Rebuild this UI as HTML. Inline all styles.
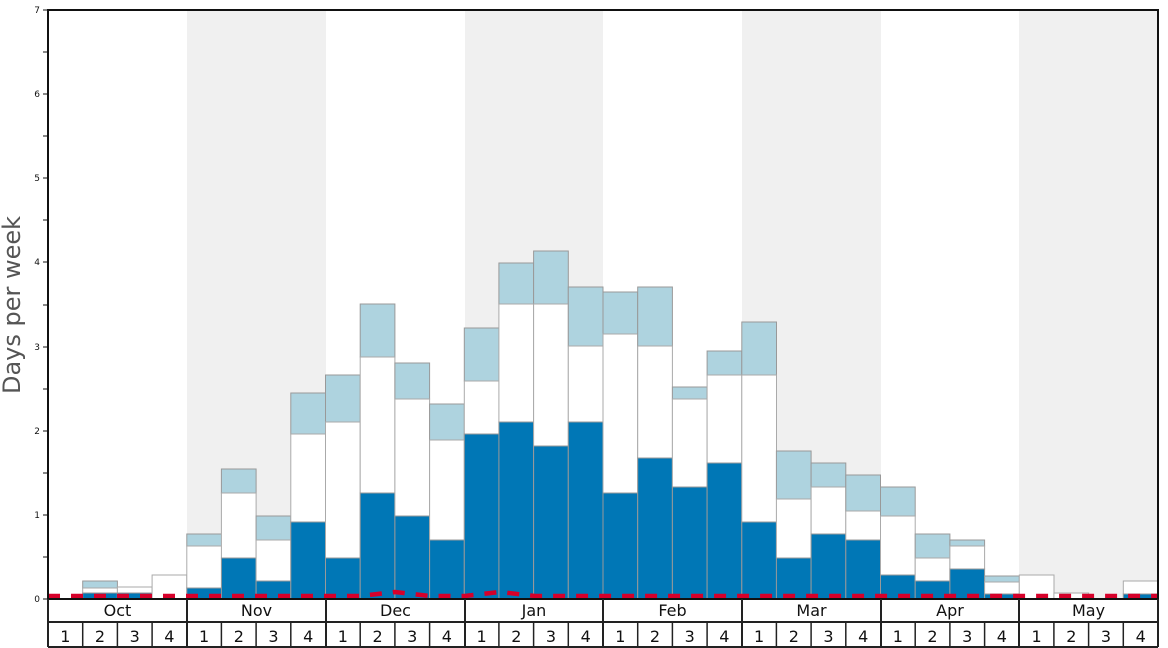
<!DOCTYPE html>
<html><head><meta charset="utf-8"><style>
html,body{margin:0;padding:0;background:#fff;}
svg{display:block;font-family:"DejaVu Sans","Liberation Sans",sans-serif;}
.b{fill:#0077b6;stroke:#999;stroke-width:1}
.w{fill:#fff;stroke:#aaa;stroke-width:1}
.l{fill:#aed3df;stroke:#999;stroke-width:1}
</style></head><body>
<svg width="1168" height="648" viewBox="0 0 1168 648">
<rect x="187" y="10" width="139" height="589" fill="#f0f0f0"/>
<rect x="465" y="10" width="138" height="589" fill="#f0f0f0"/>
<rect x="742" y="10" width="139" height="589" fill="#f0f0f0"/>
<rect x="1019" y="10" width="139" height="589" fill="#f0f0f0"/>
<g>
<rect class="l" x="82.7" y="581" width="34.7" height="7"/><rect class="w" x="82.7" y="588" width="34.7" height="5"/><rect class="b" x="82.7" y="593" width="34.7" height="6"/>
<rect class="w" x="117.4" y="587" width="34.7" height="6"/><rect class="b" x="117.4" y="593" width="34.7" height="6"/>
<rect class="w" x="152.1" y="575" width="34.7" height="24"/>
<rect class="l" x="186.8" y="534" width="34.7" height="12"/><rect class="w" x="186.8" y="546" width="34.7" height="42"/><rect class="b" x="186.8" y="588" width="34.7" height="11"/>
<rect class="l" x="221.4" y="469" width="34.7" height="24"/><rect class="w" x="221.4" y="493" width="34.7" height="65"/><rect class="b" x="221.4" y="558" width="34.7" height="41"/>
<rect class="l" x="256.1" y="516" width="34.7" height="24"/><rect class="w" x="256.1" y="540" width="34.7" height="41"/><rect class="b" x="256.1" y="581" width="34.7" height="18"/>
<rect class="l" x="290.8" y="393" width="34.7" height="41"/><rect class="w" x="290.8" y="434" width="34.7" height="88"/><rect class="b" x="290.8" y="522" width="34.7" height="77"/>
<rect class="l" x="325.5" y="375" width="34.7" height="47"/><rect class="w" x="325.5" y="422" width="34.7" height="136"/><rect class="b" x="325.5" y="558" width="34.7" height="41"/>
<rect class="l" x="360.2" y="304" width="34.7" height="53"/><rect class="w" x="360.2" y="357" width="34.7" height="136"/><rect class="b" x="360.2" y="493" width="34.7" height="106"/>
<rect class="l" x="394.9" y="363" width="34.7" height="36"/><rect class="w" x="394.9" y="399" width="34.7" height="117"/><rect class="b" x="394.9" y="516" width="34.7" height="83"/>
<rect class="l" x="429.6" y="404" width="34.7" height="36"/><rect class="w" x="429.6" y="440" width="34.7" height="100"/><rect class="b" x="429.6" y="540" width="34.7" height="59"/>
<rect class="l" x="464.3" y="328" width="34.7" height="53"/><rect class="w" x="464.3" y="381" width="34.7" height="53"/><rect class="b" x="464.3" y="434" width="34.7" height="165"/>
<rect class="l" x="498.9" y="263" width="34.7" height="41"/><rect class="w" x="498.9" y="304" width="34.7" height="118"/><rect class="b" x="498.9" y="422" width="34.7" height="177"/>
<rect class="l" x="533.6" y="251" width="34.7" height="53"/><rect class="w" x="533.6" y="304" width="34.7" height="142"/><rect class="b" x="533.6" y="446" width="34.7" height="153"/>
<rect class="l" x="568.3" y="287" width="34.7" height="59"/><rect class="w" x="568.3" y="346" width="34.7" height="76"/><rect class="b" x="568.3" y="422" width="34.7" height="177"/>
<rect class="l" x="603" y="292" width="34.7" height="42"/><rect class="w" x="603" y="334" width="34.7" height="159"/><rect class="b" x="603" y="493" width="34.7" height="106"/>
<rect class="l" x="637.7" y="287" width="34.7" height="59"/><rect class="w" x="637.7" y="346" width="34.7" height="112"/><rect class="b" x="637.7" y="458" width="34.7" height="141"/>
<rect class="l" x="672.4" y="387" width="34.7" height="12"/><rect class="w" x="672.4" y="399" width="34.7" height="88"/><rect class="b" x="672.4" y="487" width="34.7" height="112"/>
<rect class="l" x="707.1" y="351" width="34.7" height="24"/><rect class="w" x="707.1" y="375" width="34.7" height="88"/><rect class="b" x="707.1" y="463" width="34.7" height="136"/>
<rect class="l" x="741.8" y="322" width="34.7" height="53"/><rect class="w" x="741.8" y="375" width="34.7" height="147"/><rect class="b" x="741.8" y="522" width="34.7" height="77"/>
<rect class="l" x="776.4" y="451" width="34.7" height="48"/><rect class="w" x="776.4" y="499" width="34.7" height="59"/><rect class="b" x="776.4" y="558" width="34.7" height="41"/>
<rect class="l" x="811.1" y="463" width="34.7" height="24"/><rect class="w" x="811.1" y="487" width="34.7" height="47"/><rect class="b" x="811.1" y="534" width="34.7" height="65"/>
<rect class="l" x="845.8" y="475" width="34.7" height="36"/><rect class="w" x="845.8" y="511" width="34.7" height="29"/><rect class="b" x="845.8" y="540" width="34.7" height="59"/>
<rect class="l" x="880.5" y="487" width="34.7" height="29"/><rect class="w" x="880.5" y="516" width="34.7" height="59"/><rect class="b" x="880.5" y="575" width="34.7" height="24"/>
<rect class="l" x="915.2" y="534" width="34.7" height="24"/><rect class="w" x="915.2" y="558" width="34.7" height="23"/><rect class="b" x="915.2" y="581" width="34.7" height="18"/>
<rect class="l" x="949.9" y="540" width="34.7" height="6"/><rect class="w" x="949.9" y="546" width="34.7" height="23"/><rect class="b" x="949.9" y="569" width="34.7" height="30"/>
<rect class="l" x="984.6" y="576" width="34.7" height="6"/><rect class="w" x="984.6" y="582" width="34.7" height="12"/><rect class="b" x="984.6" y="594" width="34.7" height="5"/>
<rect class="w" x="1019.3" y="575" width="34.7" height="24"/>
<rect class="w" x="1053.9" y="593" width="34.7" height="6"/>
<rect class="w" x="1123.3" y="581" width="34.7" height="13"/><rect class="b" x="1123.3" y="594" width="34.7" height="5"/>
</g>
<polyline points="48,596 360,596 395,592 430,596 465,596 500,592 535,596 1158,596" fill="none" stroke="#d6002a" stroke-width="4.5" stroke-dasharray="12,11"/>
<rect x="48" y="10" width="1110" height="589" fill="none" stroke="#111" stroke-width="2"/>
<g stroke="#111" stroke-width="1">
<line x1="43" y1="599" x2="48" y2="599"/><line x1="43" y1="557" x2="48" y2="557"/>
<line x1="43" y1="515" x2="48" y2="515"/><line x1="43" y1="473" x2="48" y2="473"/>
<line x1="43" y1="431" x2="48" y2="431"/><line x1="43" y1="389" x2="48" y2="389"/>
<line x1="43" y1="347" x2="48" y2="347"/><line x1="43" y1="305" x2="48" y2="305"/>
<line x1="43" y1="262" x2="48" y2="262"/><line x1="43" y1="220" x2="48" y2="220"/>
<line x1="43" y1="178" x2="48" y2="178"/><line x1="43" y1="136" x2="48" y2="136"/>
<line x1="43" y1="94" x2="48" y2="94"/><line x1="43" y1="52" x2="48" y2="52"/>
<line x1="43" y1="10" x2="48" y2="10"/>
</g>
<g font-size="9" fill="#111" text-anchor="end">
<text x="40" y="602">0</text><text x="40" y="518">1</text><text x="40" y="434">2</text>
<text x="40" y="350">3</text><text x="40" y="265">4</text><text x="40" y="181">5</text>
<text x="40" y="97">6</text><text x="40" y="13">7</text>
</g>
<text transform="translate(20,305) rotate(-90)" font-size="24" fill="#555" text-anchor="middle">Days per week</text>
<g stroke="#222" stroke-width="2" fill="none">
<line x1="48" y1="599" x2="48" y2="647"/><line x1="1158" y1="599" x2="1158" y2="647"/>
<line x1="48" y1="622" x2="1158" y2="622"/><line x1="48" y1="647" x2="1158" y2="647"/>
<line x1="187" y1="599" x2="187" y2="647"/><line x1="326" y1="599" x2="326" y2="647"/>
<line x1="465" y1="599" x2="465" y2="647"/><line x1="603" y1="599" x2="603" y2="647"/>
<line x1="742" y1="599" x2="742" y2="647"/><line x1="881" y1="599" x2="881" y2="647"/>
<line x1="1019" y1="599" x2="1019" y2="647"/>
</g>
<g stroke="#222" stroke-width="1.5">
<line x1="82.7" y1="622" x2="82.7" y2="647"/><line x1="117.4" y1="622" x2="117.4" y2="647"/><line x1="152.1" y1="622" x2="152.1" y2="647"/>
<line x1="221.4" y1="622" x2="221.4" y2="647"/><line x1="256.1" y1="622" x2="256.1" y2="647"/><line x1="290.8" y1="622" x2="290.8" y2="647"/>
<line x1="360.2" y1="622" x2="360.2" y2="647"/><line x1="394.9" y1="622" x2="394.9" y2="647"/><line x1="429.6" y1="622" x2="429.6" y2="647"/>
<line x1="498.9" y1="622" x2="498.9" y2="647"/><line x1="533.6" y1="622" x2="533.6" y2="647"/><line x1="568.3" y1="622" x2="568.3" y2="647"/>
<line x1="637.7" y1="622" x2="637.7" y2="647"/><line x1="672.4" y1="622" x2="672.4" y2="647"/><line x1="707.1" y1="622" x2="707.1" y2="647"/>
<line x1="776.4" y1="622" x2="776.4" y2="647"/><line x1="811.1" y1="622" x2="811.1" y2="647"/><line x1="845.8" y1="622" x2="845.8" y2="647"/>
<line x1="915.2" y1="622" x2="915.2" y2="647"/><line x1="949.9" y1="622" x2="949.9" y2="647"/><line x1="984.6" y1="622" x2="984.6" y2="647"/>
<line x1="1053.9" y1="622" x2="1053.9" y2="647"/><line x1="1088.6" y1="622" x2="1088.6" y2="647"/><line x1="1123.3" y1="622" x2="1123.3" y2="647"/>
</g>
<g font-size="16" fill="#111" text-anchor="middle">
<text x="117.5" y="616">Oct</text><text x="256.5" y="616">Nov</text><text x="395.5" y="616">Dec</text>
<text x="534" y="616">Jan</text><text x="672.5" y="616">Feb</text><text x="811.5" y="616">Mar</text>
<text x="950" y="616">Apr</text><text x="1088.5" y="616">May</text>
</g>
<g font-size="16" fill="#111" text-anchor="middle">
<text x="65.3" y="642">1</text><text x="100" y="642">2</text><text x="134.7" y="642">3</text><text x="169.4" y="642">4</text>
<text x="204.1" y="642">1</text><text x="238.8" y="642">2</text><text x="273.5" y="642">3</text><text x="308.2" y="642">4</text>
<text x="342.9" y="642">1</text><text x="377.6" y="642">2</text><text x="412.2" y="642">3</text><text x="446.9" y="642">4</text>
<text x="481.6" y="642">1</text><text x="516.3" y="642">2</text><text x="551" y="642">3</text><text x="585.7" y="642">4</text>
<text x="620.3" y="642">1</text><text x="655" y="642">2</text><text x="689.7" y="642">3</text><text x="724.4" y="642">4</text>
<text x="759.1" y="642">1</text><text x="793.8" y="642">2</text><text x="828.5" y="642">3</text><text x="863.2" y="642">4</text>
<text x="897.8" y="642">1</text><text x="932.5" y="642">2</text><text x="967.2" y="642">3</text><text x="1001.9" y="642">4</text>
<text x="1036.6" y="642">1</text><text x="1071.3" y="642">2</text><text x="1106" y="642">3</text><text x="1140.7" y="642">4</text>
</g>
</svg>
</body></html>
